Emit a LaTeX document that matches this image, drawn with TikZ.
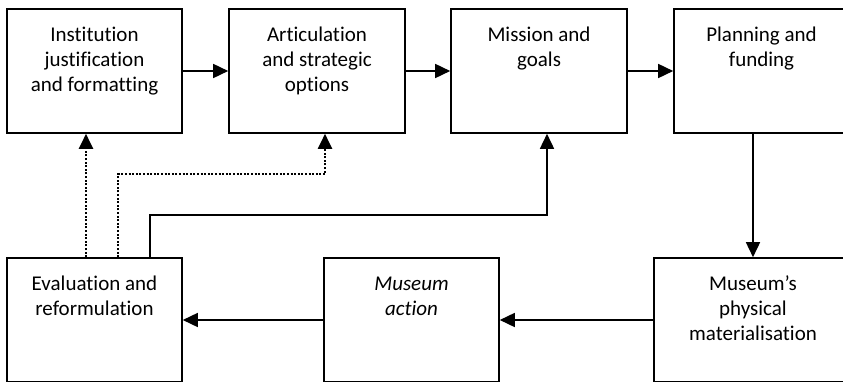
\documentclass[tikz,border=0pt]{standalone}
\usepackage{fontspec}
\setmainfont{Carlito}[Ligatures=NoCommon]
\usetikzlibrary{arrows.meta}
\tikzstyle{stage}=[draw,line width=1.6pt,inner xsep=0pt,inner ysep=15pt,font=\fontsize{21}{25}\selectfont]
\tikzstyle{flow}=[draw,line width=1.6pt,-{Triangle[length=15pt,width=14pt]}]
\tikzstyle{loop}=[flow,line width=2pt,dash pattern=on 2pt off 1.6pt]
\begin{document}
\begin{tikzpicture}[x=1pt,y=1pt]
    \useasboundingbox (0,0) rectangle (843,381);
    \clip (0,0) rectangle (843,381);
    % First the stages of the cycle
    \foreach \pos/\w/\name/\txt in {{(94.5,310)/175/inst/{Institution\\justification\\and formatting}},
        {(317,310)/176/artic/{Articulation\\and strategic\\options}},
        {(539,310)/176/mission/{Mission and\\goals}},
        {(761.5,310)/175/plan/{Planning and\\funding}},
        {(94.5,61)/175/eval/{Evaluation and\\reformulation}},
        {(411.5,61)/175/action/{\itshape Museum\\action}},
        {(753,61)/198/phys/{Museum’s\\physical\\materialisation}}}
        \node[stage] (\name) at \pos {\parbox[c][94pt][t]{\w pt}{\centering\strut\txt}};

    % Connect the stages
    \foreach \source/\dest in {inst/artic,artic/mission,mission/plan,phys/action,action/eval}
        \path[flow] (\source) -- (\dest);
    \path[flow] (phys.north |- plan.south) -- (phys.north);

    % Feedback from the evaluation
    \path[flow] ([xshift=55.5pt]eval.north) -- ++(0,42) -| ([xshift=8pt]mission.south);
    \path[loop] ([xshift=-8.5pt]eval.north) -- ([xshift=-8.5pt]inst.south);
    \path[loop] ([xshift=23.5pt]eval.north) -- ++(0,83) -| ([xshift=8pt]artic.south);
\end{tikzpicture}
\end{document}
